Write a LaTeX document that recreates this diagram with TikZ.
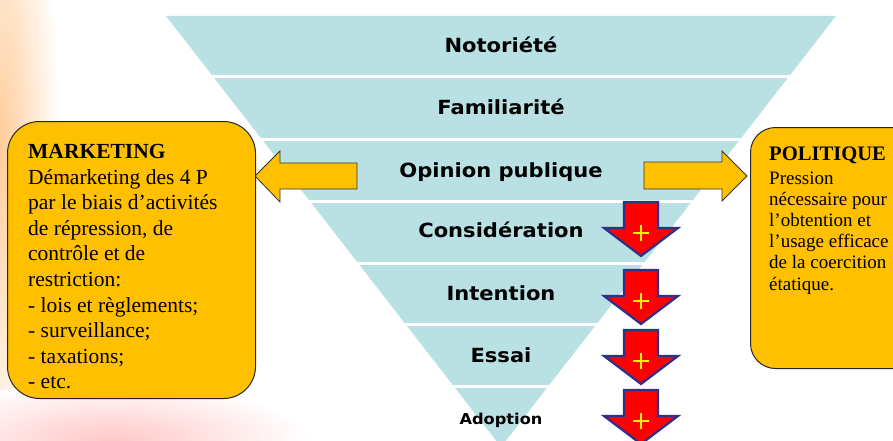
\documentclass[tikz,border=0pt]{standalone}
\usepackage{fontspec}
\setmainfont{Liberation Serif}
\newfontfamily\stagefont{DejaVu Sans}[FakeStretch=1.08]
\usetikzlibrary{positioning}

\definecolor{funnelblue}{RGB}{185,224,227}
\definecolor{boxgold}{RGB}{255,192,0}
\definecolor{arrownavy}{RGB}{46,49,140}

\begin{document}
\begin{tikzpicture}[x=1pt,y=-1pt]

        \tikzset{stage/.style = {font=\stagefont\bfseries\fontsize{19.5}{22}\selectfont, inner sep=0pt, anchor=base}, }
        \tikzset{sidebox/.style = {rectangle, draw=black!85, fill=boxgold, line width=1pt, anchor=north west}, }
        \tikzset{boxtext/.style = {align=left, inner sep=0pt, anchor=north west}, }
        \tikzset{blockarrow/.style = {draw=black!80, fill=boxgold, line width=0.8pt}, }
        \tikzset{plusarrow/.style = {draw=arrownavy, fill=red, line width=2.2pt, line join=miter}, }
        \tikzset{pics/morearrow/.style = {code = {
          \draw[plusarrow] (-17,0) -- (17,0) -- (17,26) -- (37,26) -- (0,54) -- (-37,26) -- (-17,26) -- cycle;
          \draw[yellow, line width=1.8pt] (-8,31) -- (8,31) (0,23) -- (0,39);
        }}}

        \useasboundingbox (0,0) rectangle (893,441);
        \clip (0,0) rectangle (893,441);

        % background glow on the left
        \shade[inner color=orange!40, outer color=white] (0,150) ellipse (60 and 330);
        \shade[inner color=red!22, outer color=white] (110,441) ellipse (200 and 60);

        % funnel
        \coordinate (TL) at (166,16);
        \coordinate (TR) at (836,16);
        \coordinate (apex) at (501,447);
        \fill[funnelblue] (TL) -- (TR) -- (apex) -- cycle;
        \begin{scope}
          \clip (TL) -- (TR) -- (apex) -- cycle;
          \draw[white, line width=3pt]
          (150,77) -- (850,77)
          (150,139) -- (850,139)
          (150,201) -- (850,201)
          (150,263) -- (850,263)
          (150,324) -- (850,324)
          (150,386) -- (850,386);
        \end{scope}

        \node[stage] (noto) at (501,53) {Notoriété};
        \node[stage] (fami) at (501,114) {Familiarité};
        \node[stage] (opin) at (501,177) {Opinion publique};
        \node[stage] (cons) at (501,237) {Considération};
        \node[stage] (inte) at (501,300) {Intention};
        \node[stage] (essa) at (501,362) {Essai};
        \node[stage, font=\stagefont\bfseries\fontsize{15}{18}\selectfont] (adop) at (501,424) {Adoption};

        % side boxes
        \node[sidebox, rounded corners=32pt, minimum width=248pt, minimum height=277pt] (mktbox) at (7,121) {};
        \node[boxtext, font=\fontsize{21.5}{25.6}\selectfont] (mkttext) at (28,144) {\textbf{MARKETING}\\
        Démarketing des 4 P\\
        par le biais d’activités\\
        de répression, de\\
        contrôle et de\\
        restriction:\\
        - lois et règlements;\\
        - surveillance;\\
        - taxations;\\
        - etc.};

        \node[sidebox, rounded corners=25pt, minimum width=190pt, minimum height=241pt] (polbox) at (750,127) {};
        \node[boxtext, font=\bfseries\fontsize{20.6}{24}\selectfont, anchor=base west] (poltitle) at (769,160) {POLITIQUE};
        \node[boxtext, font=\fontsize{19}{21.2}\selectfont] (poltext) at (769,171.4) {Pression\\
        nécessaire pour\\
        l’obtention et\\
        l’usage efficace\\
        de la coercition\\
        étatique.};

        % arrows from the funnel to the boxes
        \draw[blockarrow] (357,163) -- (280,163) -- (280,151) -- (255,176) -- (280,202) -- (280,189) -- (357,189) -- cycle;
        \draw[blockarrow] (644,162) -- (722,162) -- (722,151) -- (747,176) -- (722,201) -- (722,189) -- (644,189) -- cycle;

        % red arrows
        \pic (more1) at (641,202) {morearrow};
        \pic (more2) at (641,270) {morearrow};
        \pic (more3) at (641,330) {morearrow};
        \pic (more4) at (641,390) {morearrow};

\end{tikzpicture}
\end{document}
